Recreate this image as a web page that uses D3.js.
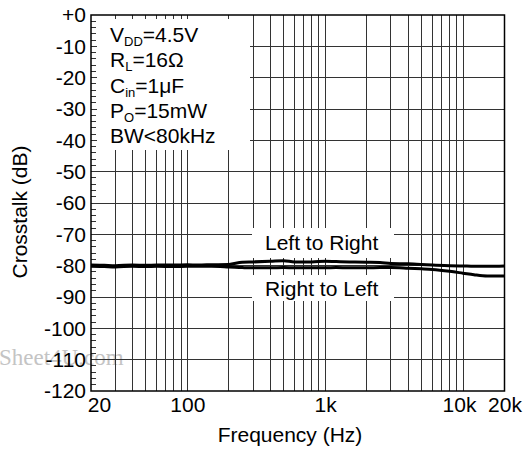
<!DOCTYPE html>
<html>
<head>
<meta charset="utf-8">
<script src="https://cdn.jsdelivr.net/npm/d3@7"></script>
<style>
  body { margin: 0; background: #fff; }
  svg { display: block; font-family: "Liberation Sans", Arial, sans-serif; }
</style>
</head>
<body>
<svg id="chart" width="523" height="449"></svg>
<script>
'use strict';

// frequency points (Hz) and crosstalk readings (dB)
const freqs       = [20, 25, 30, 40, 50, 60, 80, 100, 120, 150, 200, 250, 300, 400, 500, 600, 800,
                     1000, 1200, 1500, 2000, 2500, 3000, 4000, 5000, 6000, 8000, 10000, 12000, 15000, 20000];
const leftToRight = [-79.8, -79.9, -80.0, -79.8, -79.9, -79.8, -79.8, -79.7, -79.8, -79.7, -79.6, -78.9, -78.8, -78.6, -78.4, -78.8, -78.8,
                     -78.6, -78.7, -78.8, -78.9, -79.0, -79.3, -79.4, -79.6, -79.8, -80.0, -80.1, -80.2, -80.2, -80.1];
const rightToLeft = [-80.2, -80.3, -80.4, -80.2, -80.3, -80.2, -80.3, -80.2, -80.2, -80.2, -80.4, -80.6, -80.7, -80.7, -80.6, -80.7, -80.7,
                     -80.7, -80.6, -80.7, -80.7, -80.6, -80.6, -80.8, -81.0, -81.2, -81.8, -82.4, -82.9, -83.3, -83.3];

const yTicks = [0, -10, -20, -30, -40, -50, -60, -70, -80, -90, -100, -110, -120];
const xTicks = [20, 100, 1000, 10000, 20000];
const xTickLabels = ["20", "100", "1k", "10k", "20k"];
const xGrid = [30, 40, 50, 60, 70, 80, 90, 100, 200, 300, 400, 500, 600, 700, 800, 900,
               1000, 2000, 3000, 4000, 5000, 6000, 7000, 8000, 9000, 10000];

const conditions = [
    ["V", "DD", "=4.5V"],
    ["R", "L", "=16\u03A9"],
    ["C", "in", "=1\u03BCF"],
    ["P", "O", "=15mW"],
    ["BW<80kHz", "", ""]
];

const L = 91, R = 504.5, T = 15, B = 391;
const FS = 21;
const svg = d3.select("#chart");

const x = d3.scaleLog().domain([20, 20000]).range([L, R]);
const y = d3.scaleLinear().domain([-120, 0]).range([B, T]);

// watermark
svg.append("text")
    .attr("x", -1).attr("y", 365)
    .attr("font-family", "'Liberation Serif', 'DejaVu Serif', serif")
    .attr("font-size", 23)
    .attr("fill", "#c4c4c4")
    .text("Sheet4U.com");

const grid = svg.append("g")
    .attr("stroke", "#333")
    .attr("stroke-width", 1)
    .attr("shape-rendering", "crispEdges");

grid.selectAll("line.v").data(xGrid).join("line")
    .attr("class", "v")
    .attr("x1", d => x(d)).attr("x2", d => x(d))
    .attr("y1", T).attr("y2", B);

grid.selectAll("line.h").data(yTicks.slice(1, -1)).join("line")
    .attr("class", "h")
    .attr("x1", L).attr("x2", R)
    .attr("y1", d => y(d)).attr("y2", d => y(d));

// minor ticks every 2 dB on the left edge
const minor = d3.range(-118, 0, 2).filter(d => d % 10 !== 0);
grid.selectAll("line.m").data(minor).join("line")
    .attr("class", "m")
    .attr("x1", L).attr("x2", L + 5)
    .attr("y1", d => y(d)).attr("y2", d => y(d));

// white boxes behind texts
const boxes = [
    [97, 19, 250, 150],
    [252, 228, 394, 258],
    [252, 275, 394, 301]
];
svg.selectAll("rect.box").data(boxes).join("rect")
    .attr("class", "box")
    .attr("x", d => d[0]).attr("y", d => d[1])
    .attr("width", d => d[2] - d[0]).attr("height", d => d[3] - d[1])
    .attr("fill", "#fff");

// frame
svg.append("rect")
    .attr("x", L).attr("y", T)
    .attr("width", R - L).attr("height", B - T)
    .attr("fill", "none")
    .attr("stroke", "#000")
    .attr("stroke-width", 1.5);

// curves
const line = d3.line()
    .x((d, i) => x(freqs[i]))
    .y(d => y(d))
    .curve(d3.curveMonotoneX);

[leftToRight, rightToLeft].forEach(series => {
    svg.append("path")
        .datum(series)
        .attr("d", line)
        .attr("fill", "none")
        .attr("stroke", "#000")
        .attr("stroke-width", 3)
        .attr("stroke-linejoin", "round");
});

// axes (labels only)
const yAxis = svg.append("g")
    .attr("transform", `translate(${L},0)`)
    .call(d3.axisLeft(y).tickValues(yTicks).tickSize(0).tickPadding(5)
        .tickFormat(d => d === 0 ? "+0" : d));
const xAxis = svg.append("g")
    .attr("transform", `translate(0,${B})`)
    .call(d3.axisBottom(x).tickValues(xTicks).tickSize(0).tickPadding(6)
        .tickFormat((d, i) => xTickLabels[i]));

[yAxis, xAxis].forEach(g => {
    g.select(".domain").remove();
    g.selectAll("text")
        .attr("font-family", "'Liberation Sans', Arial, sans-serif")
        .attr("font-size", FS)
        .attr("fill", "#000");
});
xAxis.selectAll("text").filter(d => d === 20).attr("dx", 8);
xAxis.selectAll("text").filter(d => d === 10000).attr("dx", -4);

// axis titles
svg.append("text")
    .attr("x", 290).attr("y", 442)
    .attr("text-anchor", "middle")
    .attr("font-size", FS)
    .text("Frequency (Hz)");

svg.append("text")
    .attr("transform", "translate(27,212) rotate(-90)")
    .attr("text-anchor", "middle")
    .attr("font-size", FS)
    .text("Crosstalk (dB)");

// test conditions
const cond = svg.append("g").attr("font-size", FS);
conditions.forEach((c, i) => {
    const t = cond.append("text").attr("x", 110).attr("y", 42 + i * 25.3);
    t.append("tspan").text(c[0]);
    if (c[1]) {
        t.append("tspan").attr("font-size", 13).attr("dy", 4).text(c[1]);
        t.append("tspan").attr("dy", -4).text(c[2]);
    }
});

// curve labels
svg.append("text").attr("x", 265).attr("y", 250).attr("font-size", FS).text("Left to Right");
svg.append("text").attr("x", 265).attr("y", 296).attr("font-size", FS).text("Right to Left");
</script>
</body>
</html>
